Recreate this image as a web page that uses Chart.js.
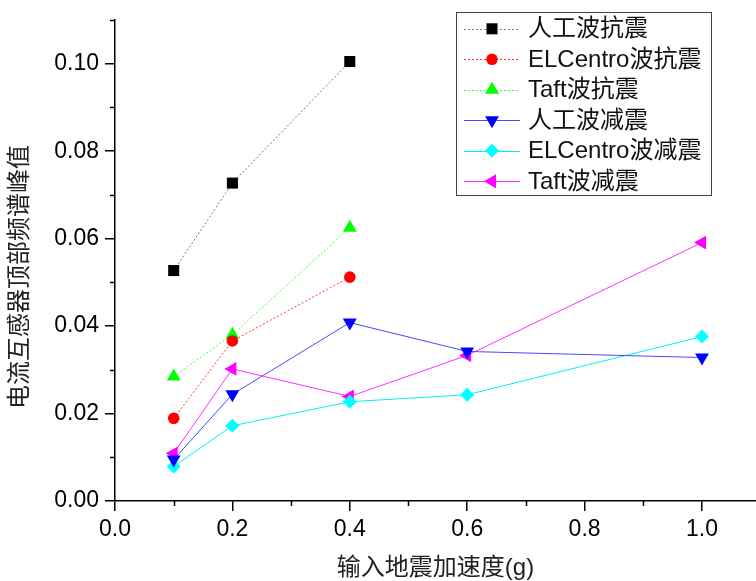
<!DOCTYPE html>
<html>
<head>
<meta charset="utf-8">
<script src="https://cdn.jsdelivr.net/npm/chart.js@4.4.1/dist/chart.umd.min.js"></script>
<style>
  html, body { margin: 0; padding: 0; background: #fff; overflow: hidden; }
  canvas { display: block; }
</style>
</head>
<body>
<canvas id="chart" width="756" height="581"></canvas>
<script>
// input acceleration (g)
const accel = [0.1, 0.2, 0.4, 0.6, 1.0];

const seriesNames = ['人工波抗震', 'ELCentro波抗震', 'Taft波抗震', '人工波减震', 'ELCentro波减震', 'Taft波减震'];

// 抗震 (only three levels measured)
const rgAseismic   = [0.0527, 0.0727, 0.1005];
const elAseismic   = [0.0189, 0.0366, 0.0512];
const taftAseismic = [0.0285, 0.0380, 0.0625];
// 减震
const rgIsolated   = [0.0095, 0.0244, 0.0408, 0.0342, 0.0328];
const elIsolated   = [0.0079, 0.0172, 0.0227, 0.0243, 0.0376];
const taftIsolated = [0.0109, 0.0302, 0.0239, 0.0333, 0.0591];

const xTitle = '输入地震加速度(g)';
const yTitle = '电流互感器顶部频谱峰值';

const latin = '"Liberation Sans", Arial, "Noto Sans CJK SC", sans-serif';

const pts = vals => vals.map((v, i) => ({ x: accel[i], y: v }));

function series(label, vals, marker, lineColor, dash, style, radius, rotation) {
    return {
        label,
        data: pts(vals),
        showLine: true,
        borderColor: lineColor,
        borderWidth: 1,
        borderDash: dash,
        pointStyle: style,
        pointRadius: radius,
        pointHoverRadius: radius,
        pointRotation: rotation || 0,
        pointBackgroundColor: marker,
        pointBorderColor: marker,
        pointBorderWidth: 0,
        tension: 0,
        clip: false
    };
}

const datasets = [
    series(seriesNames[0], rgAseismic,   '#000000', '#7a7a7a', [2, 2], 'rect', 7.8),
    series(seriesNames[1], elAseismic,   '#ff0000', '#ff3a3a', [2, 2], 'circle', 5.8),
    series(seriesNames[2], taftAseismic, '#00ff00', '#3cff3c', [2, 2], 'triangle', 8),
    series(seriesNames[3], rgIsolated,   '#0000ff', '#4848ff', [], 'triangle', 8, 180),
    series(seriesNames[4], elIsolated,   '#00ffff', '#00f0f0', [], 'rectRot', 7),
    series(seriesNames[5], taftIsolated, '#ff00ff', '#ff30ff', [], 'triangle', 8, -90)
];

// minor ticks + titles + boxed legend
const decor = {
    id: 'decor',
    afterDraw(chart) {
        const ctx = chart.ctx;
        const xs = chart.scales.x, ys = chart.scales.y;
        const area = chart.chartArea;
        ctx.save();
        ctx.strokeStyle = '#000';
        ctx.lineWidth = 1.5;
        ctx.beginPath();
        for (let v = 0.1; v < 1.09; v += 0.2) {
            const px = Math.round(xs.getPixelForValue(v)) + 0.5;
            ctx.moveTo(px, area.bottom);
            ctx.lineTo(px, area.bottom + 5);
        }
        for (let v = 0.01; v < 0.1105; v += 0.02) {
            const py = Math.round(ys.getPixelForValue(v)) + 0.5;
            ctx.moveTo(area.left, py);
            ctx.lineTo(area.left - 5, py);
        }
        ctx.stroke();

        // axis titles
        ctx.fillStyle = '#222';
        ctx.font = '24px ' + latin;
        ctx.textAlign = 'center';
        ctx.textBaseline = 'middle';
        ctx.fillText(xTitle, (area.left + area.right) / 2, 568);
        ctx.save();
        ctx.translate(20, 277);
        ctx.rotate(-Math.PI / 2);
        ctx.fillText(yTitle, 0, 0);
        ctx.restore();

        // legend
        ctx.lineWidth = 1;
        ctx.strokeStyle = '#444';
        ctx.strokeRect(456.5, 12.5, 255, 183);
        ctx.textAlign = 'left';
        chart.data.datasets.forEach((ds, i) => {
            const y = 28.8 + i * 30.5;
            ctx.save();
            ctx.strokeStyle = ds.borderColor;
            ctx.lineWidth = 1;
            ctx.setLineDash(ds.borderDash);
            ctx.beginPath();
            ctx.moveTo(464, Math.round(y) + 0.5);
            ctx.lineTo(520, Math.round(y) + 0.5);
            ctx.stroke();
            ctx.restore();
            ctx.fillStyle = ds.pointBackgroundColor;
            Chart.helpers.drawPoint(ctx, {
                pointStyle: ds.pointStyle,
                rotation: ds.pointRotation,
                radius: ds.pointRadius,
                borderWidth: 0
            }, 492, y);
            ctx.fillStyle = '#111';
            ctx.font = '24px ' + latin;
            ctx.fillText(ds.label, 528, y + 1);
        });
        ctx.restore();
    }
};

new Chart(document.getElementById('chart'), {
    type: 'line',
    data: { datasets },
    options: {
        responsive: false,
        animation: false,
        layout: { autoPadding: false, padding: { top: 20, right: 0, left: 0, bottom: 0 } },
        plugins: {
            legend: { display: false },
            tooltip: { enabled: false }
        },
        scales: {
            x: {
                type: 'linear',
                min: 0,
                max: 1.092,
                afterFit: s => { s.height = 80; s.paddingRight = 0; s.paddingLeft = 0; },
                border: { display: true, color: '#000', width: 1.5 },
                grid: { display: true, drawOnChartArea: false, drawTicks: true, tickLength: 10, color: '#000', lineWidth: 1.5 },
                ticks: {
                    stepSize: 0.2,
                    includeBounds: false,
                    maxRotation: 0,
                    padding: 5,
                    color: '#000',
                    font: { family: latin, size: 23 },
                    callback: v => v.toFixed(1)
                }
            },
            y: {
                type: 'linear',
                min: 0,
                max: 0.11,
                afterFit: s => { s.width = 115; s.paddingTop = 0; s.paddingBottom = 0; },
                border: { display: true, color: '#000', width: 1.5 },
                grid: { display: true, drawOnChartArea: false, drawTicks: true, tickLength: 10, color: '#000', lineWidth: 1.5 },
                ticks: {
                    stepSize: 0.02,
                    includeBounds: false,
                    padding: 6,
                    color: '#000',
                    font: { family: latin, size: 23 },
                    callback: v => v.toFixed(2)
                }
            }
        }
    },
    plugins: [decor]
});
</script>
</body>
</html>
